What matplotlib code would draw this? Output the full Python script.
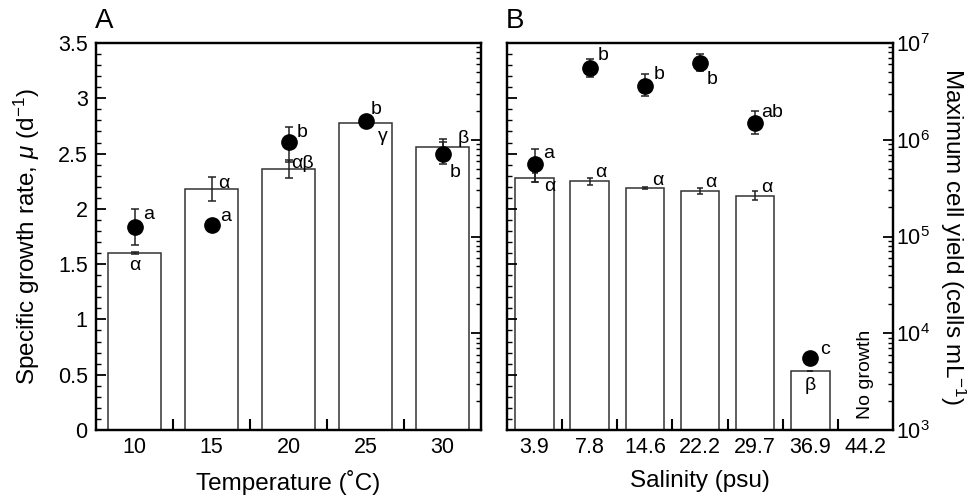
import numpy as np
import matplotlib
matplotlib.use('Agg')
import matplotlib.pyplot as plt
from matplotlib.ticker import MultipleLocator, FixedLocator, LogLocator, NullFormatter

plt.rcParams['font.family'] = ['Liberation Sans', 'DejaVu Sans']
plt.rcParams['mathtext.fontset'] = 'custom'
plt.rcParams['mathtext.rm'] = 'Liberation Sans'
plt.rcParams['mathtext.it'] = 'Liberation Sans:italic'

# panel A: temperature
temp = ['10', '15', '20', '25', '30']
temp_rate = [1.60, 2.18, 2.36, 2.78, 2.56]
temp_rate_err = [0.01, 0.11, 0.08, 0.01, 0.07]
temp_yield = [1.26e5, 1.33e5, 9.4e5, 1.58e6, 7.1e5]
temp_yield_lo = [8.2e4, 1.33e5, 5.9e5, 1.58e6, 5.6e5]
temp_yield_hi = [1.93e5, 1.33e5, 1.36e6, 1.58e6, 9.5e5]
temp_rate_lab = ['α', 'α', 'αβ', 'γ', 'β']
temp_yield_lab = ['a', 'a', 'b', 'b', 'b']

# panel B: salinity
sal = ['3.9', '7.8', '14.6', '22.2', '29.7', '36.9', '44.2']
sal_rate = [2.28, 2.25, 2.19, 2.16, 2.12, 0.53, 0]
sal_rate_err = [0.04, 0.03, 0.01, 0.03, 0.04, 0, 0]
sal_yield = [5.6e5, 5.5e6, 3.6e6, 6.2e6, 1.5e6, 5.6e3]
sal_yield_lo = [3.7e5, 4.4e6, 2.8e6, 5.1e6, 1.14e6, 5.6e3]
sal_yield_hi = [8.1e5, 6.8e6, 4.8e6, 7.7e6, 1.97e6, 5.6e3]
sal_rate_lab = ['α', 'α', 'α', 'α', 'α', 'β']
sal_yield_lab = ['a', 'b', 'b', 'b', 'ab', 'c']

# label offsets (points)
A_rate_off = [(0, -9, 'center'), (5, 4, 'left'), (2, 4, 'left'), (9, -10, 'left'), (11, 6, 'left')]
A_yield_off = [(6, 9, 'left'), (6, 6, 'left'), (6, 7, 'left'), (4, 8, 'left'), (5, -13, 'left')]
B_rate_off = [(7, -6, 'left'), (4, 6, 'left'), (5, 5, 'left'), (4, 6, 'left'), (4, 6, 'left'), (0, -10, 'center')]
B_yield_off = [(6, 8, 'left'), (6, 9, 'left'), (6, 8, 'left'), (5, -12, 'left'), (4, 7, 'left'), (7, 6, 'left')]

ec = '#333333'
fs_tick = 15.5
fs_lab = 17.5
fs_ann = 14


def style_left(ax, labels_on):
    ax.set_ylim(0, 3.5)
    ax.yaxis.set_major_locator(MultipleLocator(0.5))
    ax.yaxis.set_minor_locator(MultipleLocator(0.1))
    ax.tick_params(axis='y', which='major', direction='in', length=7, width=1.3, labelsize=fs_tick, pad=6)
    ax.tick_params(axis='y', which='minor', direction='in', length=3.5, width=1)
    if not labels_on:
        ax.tick_params(axis='y', which='both', labelleft=False)
    else:
        ax.set_yticks(np.arange(0, 3.51, 0.5))
        ax.set_yticklabels(['0', '0.5', '1', '1.5', '2', '2.5', '3', '3.5'])
    for s in ax.spines.values():
        s.set_linewidth(1.6)


def style_x(ax, names):
    n = len(names)
    ax.set_xlim(-0.5, n - 0.5)
    ax.xaxis.set_major_locator(FixedLocator(np.arange(0.5, n - 1, 1)))
    ax.xaxis.set_major_formatter(NullFormatter())
    ax.set_xticks(np.arange(n), minor=True)
    ax.set_xticklabels(names, minor=True)
    ax.tick_params(axis='x', which='major', direction='in', length=8, width=1.5)
    ax.tick_params(axis='x', which='minor', length=0, labelsize=fs_tick, pad=5)


def style_right(ax2, labels_on):
    ax2.set_yscale('log')
    ax2.set_ylim(1e3, 1e7)
    ax2.yaxis.set_major_locator(LogLocator(base=10, numticks=10))
    ax2.yaxis.set_minor_locator(LogLocator(base=10, subs=np.arange(2, 10), numticks=10))
    ax2.yaxis.set_minor_formatter(NullFormatter())
    ax2.tick_params(axis='y', which='major', direction='in', length=7, width=1.3, labelsize=fs_tick, pad=2)
    ax2.tick_params(axis='y', which='minor', direction='in', length=3.5, width=1)
    if not labels_on:
        ax2.tick_params(axis='y', which='both', labelright=False)


fig = plt.figure(figsize=(9.67, 5), dpi=100)

# ---------- panel A
axA = fig.add_axes([96 / 967, 70 / 500, 385 / 967, 387 / 500])
xa = np.arange(len(temp))
axA.bar(xa, temp_rate, width=0.7, color='white', edgecolor=ec, linewidth=1.1,
        yerr=temp_rate_err, error_kw=dict(ecolor='#222222', elinewidth=1.1, capsize=3, capthick=1.1))
style_left(axA, True)
style_x(axA, temp)
axA.set_ylabel(r'Specific growth rate, $\mu$ (d$^{-1}$)', fontsize=fs_lab, labelpad=11)
axA.set_xlabel('Temperature (˚C)', fontsize=fs_lab, labelpad=9)
for i, t in enumerate(temp_rate_lab):
    dx, dy, ha = A_rate_off[i]
    axA.annotate(t, (xa[i], temp_rate[i]), xytext=(dx, dy), textcoords='offset points',
                 ha=ha, va='center', fontsize=fs_ann)

axA2 = axA.twinx()
style_right(axA2, False)
ty = np.array(temp_yield)
terr = [ty - np.array(temp_yield_lo), np.array(temp_yield_hi) - ty]
axA2.errorbar(xa, ty, yerr=terr, fmt='o', color='black', markersize=11,
              ecolor='#222222', elinewidth=1.1, capsize=3, capthick=1.1)
for i, t in enumerate(temp_yield_lab):
    dx, dy, ha = A_yield_off[i]
    axA2.annotate(t, (xa[i], ty[i]), xytext=(dx, dy), textcoords='offset points',
                  ha=ha, va='center', fontsize=fs_ann)
for s in axA2.spines.values():
    s.set_linewidth(1.6)
fig.text(95 / 967, 1 - 21 / 500, 'A', fontsize=20, ha='left', va='center')

# ---------- panel B
axB = fig.add_axes([507 / 967, 70 / 500, 386 / 967, 387 / 500])
xb = np.arange(len(sal))
axB.bar(xb[:-1], sal_rate[:-1], width=0.7, color='white', edgecolor=ec, linewidth=1.1,
        yerr=sal_rate_err[:-1], error_kw=dict(ecolor='#222222', elinewidth=1.1, capsize=2.5, capthick=1.1))
style_left(axB, False)
style_x(axB, sal)
axB.set_xlabel('Salinity (psu)', fontsize=fs_lab, labelpad=9)
for i, t in enumerate(sal_rate_lab):
    dx, dy, ha = B_rate_off[i]
    axB.annotate(t, (xb[i], sal_rate[i]), xytext=(dx, dy), textcoords='offset points',
                 ha=ha, va='center', fontsize=fs_ann)
axB.text(xb[-1], 0.5, 'No growth', rotation=90, ha='center', va='center', fontsize=fs_ann)

axB2 = axB.twinx()
style_right(axB2, True)
sy = np.array(sal_yield)
serr = [sy - np.array(sal_yield_lo), np.array(sal_yield_hi) - sy]
axB2.errorbar(xb[:len(sy)], sy, yerr=serr, fmt='o', color='black', markersize=11,
              ecolor='#222222', elinewidth=1.1, capsize=3, capthick=1.1)
for i, t in enumerate(sal_yield_lab):
    dx, dy, ha = B_yield_off[i]
    axB2.annotate(t, (xb[i], sy[i]), xytext=(dx, dy), textcoords='offset points',
                  ha=ha, va='center', fontsize=fs_ann)
axB2.set_ylabel(r'Maximum cell yield (cells mL$^{-1}$)', fontsize=fs_lab, rotation=270, labelpad=28)
for s in axB2.spines.values():
    s.set_linewidth(1.6)
fig.text(506 / 967, 1 - 21 / 500, 'B', fontsize=20, ha='left', va='center')

fig.savefig('out.png', dpi=100)
